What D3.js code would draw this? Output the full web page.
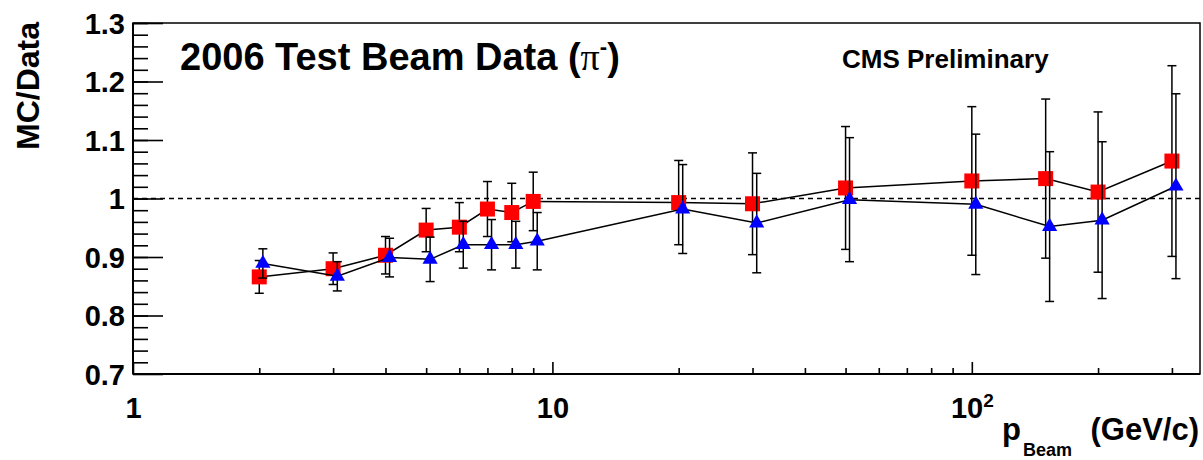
<!DOCTYPE html>
<html>
<head>
<meta charset="utf-8">
<script src="https://cdn.jsdelivr.net/npm/d3@7"></script>
<style>
  html, body { margin: 0; padding: 0; background: #fff; }
  svg { display: block; }
  text { font-family: "Liberation Sans", Arial, Helvetica, sans-serif; font-weight: bold; fill: #000; }
</style>
</head>
<body>
<svg id="chart" width="1203" height="460"></svg>
<script>
// ---- data ----
const redP   = [2, 3, 4, 5, 6, 7, 8, 9, 20, 30, 50, 100, 150, 200, 300];
const redY   = [0.866, 0.880, 0.903, 0.946, 0.951, 0.982, 0.976, 0.995, 0.993, 0.991, 1.018, 1.030, 1.034, 1.011, 1.064];
const redErr = [0.028, 0.027, 0.032, 0.037, 0.042, 0.047, 0.050, 0.050, 0.072, 0.087, 0.105, 0.127, 0.136, 0.137, 0.163];
const blueP   = [2.04, 3.07, 4.09, 5.11, 6.13, 7.16, 8.18, 9.2, 20.45, 30.7, 51.1, 102.2, 153.3, 204.5, 306.7];
const blueY   = [0.889, 0.867, 0.899, 0.896, 0.921, 0.921, 0.921, 0.927, 0.982, 0.958, 0.998, 0.990, 0.952, 0.963, 1.021];
const blueErr = [0.025, 0.025, 0.033, 0.038, 0.040, 0.043, 0.040, 0.049, 0.076, 0.085, 0.106, 0.120, 0.128, 0.134, 0.158];
const yMajor = [0.7, 0.8, 0.9, 1.0, 1.1, 1.2, 1.3];
const yLabels = ["0.7", "0.8", "0.9", "1", "1.1", "1.2", "1.3"];
const yMinor = d3.range(0.72, 1.3, 0.02);
const xMajor = [1, 10, 100];
const xLabels = ["1", "10", "10|2"];
const xMinor = [2,3,4,5,6,7,8,9,20,30,40,50,60,70,80,90,200,300];
const refLine = 1.0;

// ---- layout ----
const svg = d3.select("#chart");
const L = 133, R = 1200, T = 23, B = 374;
const x = d3.scaleLog().domain([1, 350]).range([L, R]);
const y = d3.scaleLinear().domain([0.7, 1.3]).range([B, T]);

// frame
svg.append("rect").attr("x", L).attr("y", T).attr("width", R - L).attr("height", B - T)
  .attr("fill", "none").attr("stroke", "#000").attr("stroke-width", 1.5);

// y ticks (inside)
const yTickMaj = svg.append("g").attr("transform", `translate(${L},0)`)
  .call(d3.axisRight(y).tickValues(yMajor).tickSize(30).tickFormat(""));
const yTickMin = svg.append("g").attr("transform", `translate(${L},0)`)
  .call(d3.axisRight(y).tickValues(yMinor).tickSize(15).tickFormat(""));
[yTickMaj, yTickMin].forEach(g => {
  g.select(".domain").remove();
  g.selectAll("line").attr("stroke", "#000").attr("stroke-width", 1.6);
});
// y labels
const yLab = svg.append("g").attr("transform", `translate(${L},0)`)
  .call(d3.axisLeft(y).tickValues(yMajor).tickSize(0).tickPadding(8)
    .tickFormat((d, i) => yLabels[i]));
yLab.select(".domain").remove();
yLab.selectAll("text").attr("font-size", 29).attr("font-family", "Liberation Sans, Arial, sans-serif")
  .attr("font-weight", "bold").attr("dy", "0.36em");

// x ticks (inside)
const xTickMaj = svg.append("g").attr("transform", `translate(0,${B})`)
  .call(d3.axisTop(x).tickValues(xMajor).tickSize(12).tickFormat(""));
const xTickMin = svg.append("g").attr("transform", `translate(0,${B})`)
  .call(d3.axisTop(x).tickValues(xMinor).tickSize(6).tickFormat(""));
[xTickMaj, xTickMin].forEach(g => {
  g.select(".domain").remove();
  g.selectAll("line").attr("stroke", "#000").attr("stroke-width", 1.6);
});
// x labels
const xLab = svg.append("g").attr("transform", `translate(0,${B})`)
  .call(d3.axisBottom(x).tickValues(xMajor).tickSize(0).tickPadding(23)
    .tickFormat((d, i) => xLabels[i]));
xLab.select(".domain").remove();
xLab.selectAll("text").attr("font-size", 29).attr("font-family", "Liberation Sans, Arial, sans-serif")
  .attr("font-weight", "bold")
  .each(function(d, i) {
    const parts = xLabels[i].split("|");
    if (parts.length > 1) {
      const t = d3.select(this);
      t.text(null);
      t.append("tspan").text(parts[0]);
      t.append("tspan").attr("font-size", 19).attr("dy", "-0.55em").text(parts[1]);
    }
  });

// axes lines (slightly heavier)
svg.append("line").attr("x1", L).attr("x2", L).attr("y1", T).attr("y2", B)
  .attr("stroke", "#000").attr("stroke-width", 2);
svg.append("line").attr("x1", L).attr("x2", R).attr("y1", B).attr("y2", B)
  .attr("stroke", "#000").attr("stroke-width", 2);

// dashed reference line
svg.append("line").attr("x1", L).attr("x2", R).attr("y1", y(refLine)).attr("y2", y(refLine))
  .attr("stroke", "#000").attr("stroke-width", 1.5).attr("stroke-dasharray", "5,4");

// series
function drawSeries(P, V, E, kind) {
  const g = svg.append("g");
  const pts = P.map((p, i) => ({ p, v: V[i], e: E[i] }));
  g.append("path").datum(pts)
    .attr("d", d3.line().x(d => x(d.p)).y(d => y(d.v)))
    .attr("fill", "none").attr("stroke", "#000").attr("stroke-width", 1.5);
  const eb = g.selectAll("g.eb").data(pts).join("g").attr("class", "eb");
  eb.append("line").attr("x1", d => x(d.p)).attr("x2", d => x(d.p))
    .attr("y1", d => y(d.v + d.e)).attr("y2", d => y(d.v - d.e))
    .attr("stroke", "#000").attr("stroke-width", 1.5);
  eb.append("line").attr("x1", d => x(d.p) - 4.5).attr("x2", d => x(d.p) + 4.5)
    .attr("y1", d => y(d.v + d.e)).attr("y2", d => y(d.v + d.e))
    .attr("stroke", "#000").attr("stroke-width", 1.5);
  eb.append("line").attr("x1", d => x(d.p) - 4.5).attr("x2", d => x(d.p) + 4.5)
    .attr("y1", d => y(d.v - d.e)).attr("y2", d => y(d.v - d.e))
    .attr("stroke", "#000").attr("stroke-width", 1.5);
  if (kind === "square") {
    g.selectAll("rect.m").data(pts).join("rect").attr("class", "m")
      .attr("x", d => x(d.p) - 7.5).attr("y", d => y(d.v) - 7.5)
      .attr("width", 15).attr("height", 15).attr("fill", "#ff0000");
  } else {
    const tri = d3.symbol().type(d3.symbolTriangle).size(100);
    g.selectAll("path.m").data(pts).join("path").attr("class", "m")
      .attr("d", tri).attr("transform", d => `translate(${x(d.p)},${y(d.v)})`)
      .attr("fill", "#0000ff");
  }
}
drawSeries(redP, redY, redErr, "square");
drawSeries(blueP, blueY, blueErr, "triangle");

// title texts
const title = svg.append("text").attr("x", 180).attr("y", 70).attr("font-size", 38);
title.append("tspan").text("2006 Test Beam Data (");
title.append("tspan").attr("font-family", "Liberation Serif, Times New Roman, serif").attr("font-weight", "normal").text("π");
title.append("tspan").attr("font-size", 22).attr("dy", "-0.75em").text("-");
title.append("tspan").attr("dy", "0.43em").attr("font-size", 38).text(")");

svg.append("text").attr("x", 842).attr("y", 68).attr("font-size", 26).text("CMS Preliminary");

// y axis title
svg.append("text").attr("transform", "translate(39,22) rotate(-90)")
  .attr("text-anchor", "end").attr("font-size", 32).text("MC/Data");

// x axis title
const xt = svg.append("text").attr("x", 1002).attr("y", 440).attr("font-size", 31);
xt.append("tspan").text("p");
xt.append("tspan").attr("font-size", 18).attr("dy", 16).attr("dx", 2).text("Beam");
svg.append("text").attr("x", 1199).attr("y", 440).attr("text-anchor", "end").attr("font-size", 31).text("(GeV/c)");
</script>
</body>
</html>
